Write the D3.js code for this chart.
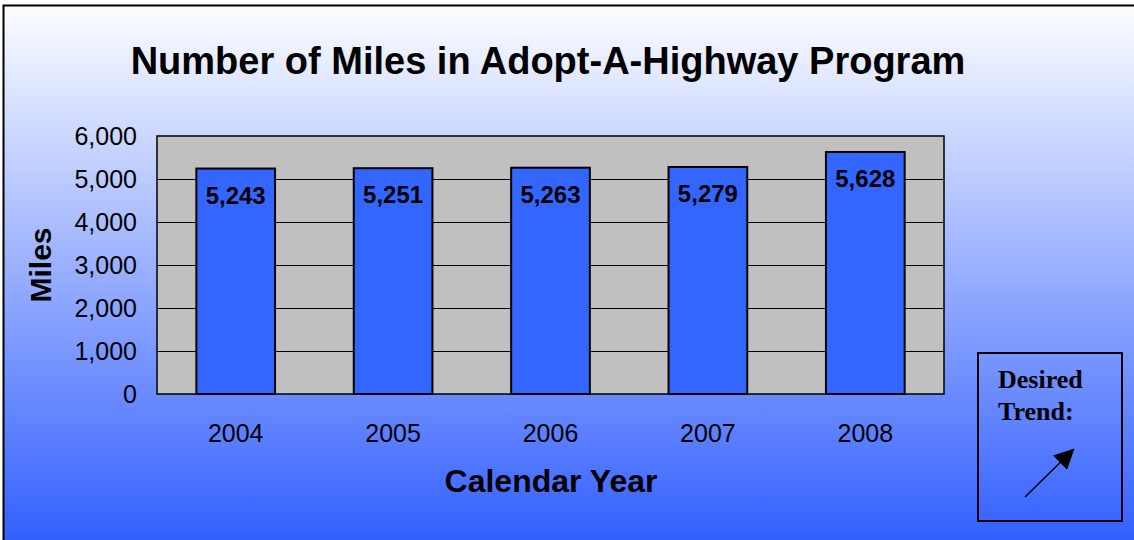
<!DOCTYPE html>
<html><head><meta charset="utf-8">
<script src="https://cdn.jsdelivr.net/npm/d3@7"></script>
<style>body{margin:0;padding:0;overflow:hidden;background:#fff}</style>
</head><body>
<svg id="chart" width="1134" height="540"></svg>
<script>
const categories = ["2004", "2005", "2006", "2007", "2008"];
const values = [5243, 5251, 5263, 5279, 5628];
const yTicks = [0, 1000, 2000, 3000, 4000, 5000, 6000];
const title = "Number of Miles in Adopt-A-Highway Program";
const xTitle = "Calendar Year";
const yTitle = "Miles";
const noteLines = ["Desired", "Trend:"];

(function () {
const FONT = "Arial, 'Liberation Sans', sans-serif";
const svg = d3.select("#chart");
const defs = svg.append("defs");
const grad2 = defs.append("linearGradient").attr("id", "bg2").attr("gradientUnits", "userSpaceOnUse")
  .attr("x1", 0).attr("y1", 0).attr("x2", 0).attr("y2", 540);
grad2.append("stop").attr("offset", "0%").attr("stop-color", "#ffffff");
grad2.append("stop").attr("offset", "100%").attr("stop-color", "#3360ff");
defs.append("marker").attr("id", "arr").attr("viewBox", "0 0 10 10").attr("refX", 9).attr("refY", 5)
  .attr("markerWidth", 22).attr("markerHeight", 20).attr("markerUnits", "userSpaceOnUse").attr("orient", "auto")
  .append("path").attr("d", "M0,0 L10,5 L0,10 z").attr("fill", "#000");

svg.append("rect").attr("x", 0).attr("y", 0).attr("width", 1134).attr("height", 540).attr("fill", "#fff");
svg.append("rect").attr("x", 3.5).attr("y", 5.5).attr("width", 1140).attr("height", 540)
  .attr("fill", "url(#bg2)").attr("stroke", "#000").attr("stroke-width", 2);

const pL = 157, pR = 944, pT = 136, pB = 394;
const x = d3.scaleBand().domain(categories).range([pL, pR]).paddingInner(0.5).paddingOuter(0.25);
const y = d3.scaleLinear().domain([0, 6000]).range([pB, pT]);

svg.append("rect").attr("x", pL).attr("y", pT).attr("width", pR - pL).attr("height", pB - pT)
  .attr("fill", "#c0c0c0").attr("stroke", "#000").attr("stroke-width", 1.5);

svg.append("g").selectAll("line").data(yTicks.filter(d => d > 0 && d < 6000)).join("line")
  .attr("x1", pL).attr("x2", pR).attr("y1", d => Math.round(y(d)) + 0.5).attr("y2", d => Math.round(y(d)) + 0.5)
  .attr("stroke", "#000").attr("stroke-width", 1);

const yAxis = svg.append("g").attr("transform", `translate(${pL},0)`)
  .call(d3.axisLeft(y).tickValues(yTicks).tickFormat(d3.format(",")).tickSize(0).tickPadding(20));
yAxis.select(".domain").remove();
yAxis.selectAll("text").attr("font-family", FONT).attr("font-size", 25).attr("fill", "#000");

const xAxis = svg.append("g").attr("transform", `translate(0,${pB})`)
  .call(d3.axisBottom(x).tickSize(0).tickPadding(30));
xAxis.select(".domain").remove();
xAxis.selectAll("text").attr("font-family", FONT).attr("font-size", 25).attr("fill", "#000");

svg.append("g").selectAll("rect").data(values).join("rect")
  .attr("x", (d, i) => x(categories[i])).attr("width", x.bandwidth())
  .attr("y", d => y(d)).attr("height", d => pB - y(d))
  .attr("fill", "#3366ff").attr("stroke", "#000").attr("stroke-width", 2);

svg.append("g").selectAll("text").data(values).join("text")
  .attr("x", (d, i) => x(categories[i]) + x.bandwidth() / 2).attr("y", d => y(d) + 35)
  .attr("text-anchor", "middle").attr("font-family", FONT)
  .attr("font-weight", "bold").attr("font-size", 24).attr("fill", "#000")
  .text(d3.format(","));

svg.append("text").attr("x", 548).attr("y", 74).attr("text-anchor", "middle")
  .attr("font-family", FONT).attr("font-weight", "bold").attr("font-size", 38)
  .text(title);
svg.append("text").attr("x", 551).attr("y", 492).attr("text-anchor", "middle")
  .attr("font-family", FONT).attr("font-weight", "bold").attr("font-size", 32)
  .text(xTitle);
svg.append("text").attr("transform", "translate(51,265) rotate(-90)").attr("text-anchor", "middle")
  .attr("font-family", FONT).attr("font-weight", "bold").attr("font-size", 30)
  .text(yTitle);

svg.append("rect").attr("x", 978).attr("y", 353).attr("width", 144).attr("height", 168)
  .attr("fill", "url(#bg2)").attr("stroke", "#000").attr("stroke-width", 2);
svg.append("g").selectAll("text").data(noteLines).join("text")
  .attr("x", 998).attr("y", (d, i) => 388 + i * 32)
  .attr("font-family", "'Liberation Serif', 'Times New Roman', serif").attr("font-weight", "bold").attr("font-size", 26)
  .text(d => d);
svg.append("line").attr("x1", 1025).attr("y1", 497).attr("x2", 1073).attr("y2", 450)
  .attr("stroke", "#000").attr("stroke-width", 1.5).attr("marker-end", "url(#arr)");
})();
</script>
</body></html>
